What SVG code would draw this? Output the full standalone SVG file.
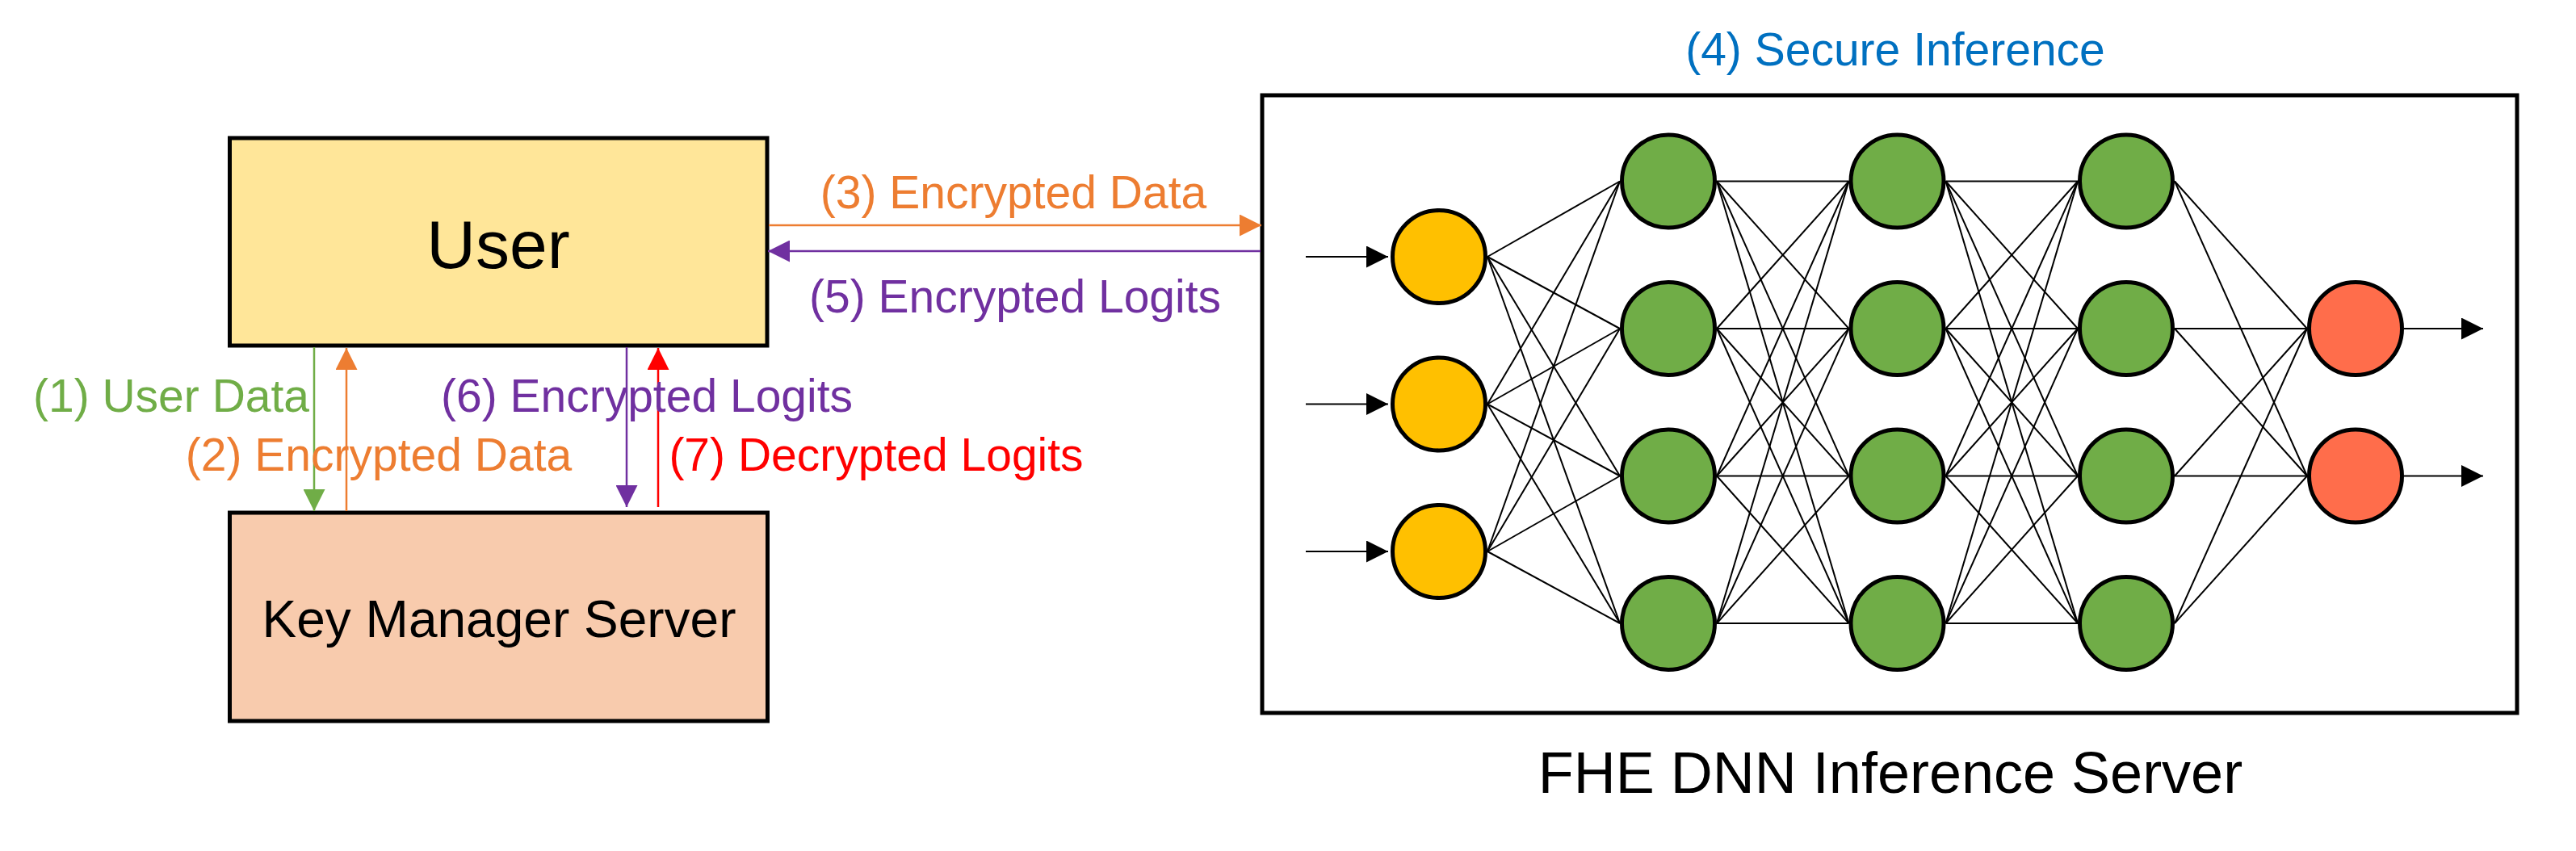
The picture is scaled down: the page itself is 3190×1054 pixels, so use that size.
<svg xmlns="http://www.w3.org/2000/svg" width="3190" height="1054" viewBox="0 0 3190 1054">
  <style>
    text { font-family: "Liberation Sans", Arial, sans-serif; text-anchor: middle; }
    .box { stroke: #000; stroke-width: 5; }
    .lbl { font-size: 57px; }
    .neuron { stroke: #000; stroke-width: 5; }
    .yellow { fill: #FFC000; }
    .green { fill: #70AD47; }
    .red { fill: #FF6D4B; }
    .nn { stroke: #000; stroke-width: 2; fill: none; }
    .arr { stroke-width: 2.5; fill: none; }
  </style>
  <defs>
    <marker id="ah-black" markerUnits="userSpaceOnUse" markerWidth="27" markerHeight="27" refX="27" refY="13.5" orient="auto"><path d="M0,0 L27,13.5 L0,27 z" fill="#000"/></marker>
    <marker id="ah-green" markerUnits="userSpaceOnUse" markerWidth="27" markerHeight="27" refX="27" refY="13.5" orient="auto"><path d="M0,0 L27,13.5 L0,27 z" fill="#70AD47"/></marker>
    <marker id="ah-orange" markerUnits="userSpaceOnUse" markerWidth="27" markerHeight="27" refX="27" refY="13.5" orient="auto"><path d="M0,0 L27,13.5 L0,27 z" fill="#ED7D31"/></marker>
    <marker id="ah-purple" markerUnits="userSpaceOnUse" markerWidth="27" markerHeight="27" refX="27" refY="13.5" orient="auto"><path d="M0,0 L27,13.5 L0,27 z" fill="#7030A0"/></marker>
    <marker id="ah-red" markerUnits="userSpaceOnUse" markerWidth="27" markerHeight="27" refX="27" refY="13.5" orient="auto"><path d="M0,0 L27,13.5 L0,27 z" fill="#FF0000"/></marker>
  </defs>
  <rect width="3190" height="1054" fill="#fff"/>

  <g id="fhe-server">
    <rect class="box" x="1563" y="118" width="1554" height="765" fill="#fff"/>
    <text x="2347" y="81" class="lbl" fill="#0070C0">(4) Secure Inference</text>
    <text x="2341" y="982" font-size="72" fill="#000">FHE DNN Inference Server</text>
  </g>

  <g id="user">
    <rect class="box" x="284.5" y="171" width="665.5" height="257" fill="#FFE699"/>
    <text x="617" y="332" font-size="84" fill="#000">User</text>
  </g>

  <g id="key-manager-server">
    <rect class="box" x="284.5" y="635" width="666" height="258" fill="#F8CBAD"/>
    <text x="618" y="789" font-size="64" fill="#000">Key Manager Server</text>
  </g>

  <g id="connectors">
    <!-- User <-> Key Manager -->
    <line class="arr" x1="389" y1="430" x2="389" y2="633" stroke="#70AD47" marker-end="url(#ah-green)"/>
    <line class="arr" x1="429" y1="633" x2="429" y2="431" stroke="#ED7D31" marker-end="url(#ah-orange)"/>
    <line class="arr" x1="776" y1="430" x2="776" y2="628" stroke="#7030A0" marker-end="url(#ah-purple)"/>
    <line class="arr" x1="815" y1="628" x2="815" y2="431" stroke="#FF0000" marker-end="url(#ah-red)"/>
    <!-- User <-> FHE server -->
    <line class="arr" x1="952" y1="279" x2="1562" y2="279" stroke="#ED7D31" marker-end="url(#ah-orange)"/>
    <line class="arr" x1="1561" y1="311" x2="951" y2="311" stroke="#7030A0" marker-end="url(#ah-purple)"/>
    <text x="212" y="510" class="lbl" fill="#70AD47">(1) User Data</text>
    <text x="469" y="583" class="lbl" fill="#ED7D31">(2) Encrypted Data</text>
    <text x="801" y="510" class="lbl" fill="#7030A0">(6) Encrypted Logits</text>
    <text x="1085" y="583" class="lbl" fill="#FF0000">(7) Decrypted Logits</text>
    <text x="1255" y="258" class="lbl" fill="#ED7D31">(3) Encrypted Data</text>
    <text x="1257" y="387" class="lbl" fill="#7030A0">(5) Encrypted Logits</text>

    <!-- input / output arrows -->
    <line class="nn" x1="1617" y1="318" x2="1719" y2="318" marker-end="url(#ah-black)"/>
    <line class="nn" x1="1617" y1="500.5" x2="1719" y2="500.5" marker-end="url(#ah-black)"/>
    <line class="nn" x1="1617" y1="683" x2="1719" y2="683" marker-end="url(#ah-black)"/>
    <line class="nn" x1="2977" y1="407" x2="3075" y2="407" marker-end="url(#ah-black)"/>
    <line class="nn" x1="2977" y1="589.5" x2="3075" y2="589.5" marker-end="url(#ah-black)"/>

    <!-- input layer -> hidden 1 -->
    <line class="nn" x1="1842" y1="318" x2="2006" y2="224.5"/>
    <line class="nn" x1="1842" y1="318" x2="2006" y2="407"/>
    <line class="nn" x1="1842" y1="318" x2="2006" y2="589.5"/>
    <line class="nn" x1="1842" y1="318" x2="2006" y2="772"/>
    <line class="nn" x1="1842" y1="500.5" x2="2006" y2="224.5"/>
    <line class="nn" x1="1842" y1="500.5" x2="2006" y2="407"/>
    <line class="nn" x1="1842" y1="500.5" x2="2006" y2="589.5"/>
    <line class="nn" x1="1842" y1="500.5" x2="2006" y2="772"/>
    <line class="nn" x1="1842" y1="683" x2="2006" y2="224.5"/>
    <line class="nn" x1="1842" y1="683" x2="2006" y2="407"/>
    <line class="nn" x1="1842" y1="683" x2="2006" y2="589.5"/>
    <line class="nn" x1="1842" y1="683" x2="2006" y2="772"/>

    <!-- hidden 1 -> hidden 2 -->
    <line class="nn" x1="2126" y1="224.5" x2="2289.5" y2="224.5"/>
    <line class="nn" x1="2126" y1="224.5" x2="2289.5" y2="407"/>
    <line class="nn" x1="2126" y1="224.5" x2="2289.5" y2="589.5"/>
    <line class="nn" x1="2126" y1="224.5" x2="2289.5" y2="772"/>
    <line class="nn" x1="2126" y1="407" x2="2289.5" y2="224.5"/>
    <line class="nn" x1="2126" y1="407" x2="2289.5" y2="407"/>
    <line class="nn" x1="2126" y1="407" x2="2289.5" y2="589.5"/>
    <line class="nn" x1="2126" y1="407" x2="2289.5" y2="772"/>
    <line class="nn" x1="2126" y1="589.5" x2="2289.5" y2="224.5"/>
    <line class="nn" x1="2126" y1="589.5" x2="2289.5" y2="407"/>
    <line class="nn" x1="2126" y1="589.5" x2="2289.5" y2="589.5"/>
    <line class="nn" x1="2126" y1="589.5" x2="2289.5" y2="772"/>
    <line class="nn" x1="2126" y1="772" x2="2289.5" y2="224.5"/>
    <line class="nn" x1="2126" y1="772" x2="2289.5" y2="407"/>
    <line class="nn" x1="2126" y1="772" x2="2289.5" y2="589.5"/>
    <line class="nn" x1="2126" y1="772" x2="2289.5" y2="772"/>

    <!-- hidden 2 -> hidden 3 -->
    <line class="nn" x1="2409.5" y1="224.5" x2="2573" y2="224.5"/>
    <line class="nn" x1="2409.5" y1="224.5" x2="2573" y2="407"/>
    <line class="nn" x1="2409.5" y1="224.5" x2="2573" y2="589.5"/>
    <line class="nn" x1="2409.5" y1="224.5" x2="2573" y2="772"/>
    <line class="nn" x1="2409.5" y1="407" x2="2573" y2="224.5"/>
    <line class="nn" x1="2409.5" y1="407" x2="2573" y2="407"/>
    <line class="nn" x1="2409.5" y1="407" x2="2573" y2="589.5"/>
    <line class="nn" x1="2409.5" y1="407" x2="2573" y2="772"/>
    <line class="nn" x1="2409.5" y1="589.5" x2="2573" y2="224.5"/>
    <line class="nn" x1="2409.5" y1="589.5" x2="2573" y2="407"/>
    <line class="nn" x1="2409.5" y1="589.5" x2="2573" y2="589.5"/>
    <line class="nn" x1="2409.5" y1="589.5" x2="2573" y2="772"/>
    <line class="nn" x1="2409.5" y1="772" x2="2573" y2="224.5"/>
    <line class="nn" x1="2409.5" y1="772" x2="2573" y2="407"/>
    <line class="nn" x1="2409.5" y1="772" x2="2573" y2="589.5"/>
    <line class="nn" x1="2409.5" y1="772" x2="2573" y2="772"/>

    <!-- hidden 3 -> output -->
    <line class="nn" x1="2693" y1="224.5" x2="2857" y2="407"/>
    <line class="nn" x1="2693" y1="224.5" x2="2857" y2="589.5"/>
    <line class="nn" x1="2693" y1="407" x2="2857" y2="407"/>
    <line class="nn" x1="2693" y1="407" x2="2857" y2="589.5"/>
    <line class="nn" x1="2693" y1="589.5" x2="2857" y2="407"/>
    <line class="nn" x1="2693" y1="589.5" x2="2857" y2="589.5"/>
    <line class="nn" x1="2693" y1="772" x2="2857" y2="407"/>
    <line class="nn" x1="2693" y1="772" x2="2857" y2="589.5"/>
  </g>

  <g id="in-1"><circle class="neuron yellow" cx="1782" cy="318" r="57.5"/></g>
  <g id="in-2"><circle class="neuron yellow" cx="1782" cy="500.5" r="57.5"/></g>
  <g id="in-3"><circle class="neuron yellow" cx="1782" cy="683" r="57.5"/></g>

  <g id="h1-1"><circle class="neuron green" cx="2066" cy="224.5" r="57.5"/></g>
  <g id="h1-2"><circle class="neuron green" cx="2066" cy="407" r="57.5"/></g>
  <g id="h1-3"><circle class="neuron green" cx="2066" cy="589.5" r="57.5"/></g>
  <g id="h1-4"><circle class="neuron green" cx="2066" cy="772" r="57.5"/></g>

  <g id="h2-1"><circle class="neuron green" cx="2349.5" cy="224.5" r="57.5"/></g>
  <g id="h2-2"><circle class="neuron green" cx="2349.5" cy="407" r="57.5"/></g>
  <g id="h2-3"><circle class="neuron green" cx="2349.5" cy="589.5" r="57.5"/></g>
  <g id="h2-4"><circle class="neuron green" cx="2349.5" cy="772" r="57.5"/></g>

  <g id="h3-1"><circle class="neuron green" cx="2633" cy="224.5" r="57.5"/></g>
  <g id="h3-2"><circle class="neuron green" cx="2633" cy="407" r="57.5"/></g>
  <g id="h3-3"><circle class="neuron green" cx="2633" cy="589.5" r="57.5"/></g>
  <g id="h3-4"><circle class="neuron green" cx="2633" cy="772" r="57.5"/></g>

  <g id="out-1"><circle class="neuron red" cx="2917" cy="407" r="57.5"/></g>
  <g id="out-2"><circle class="neuron red" cx="2917" cy="589.5" r="57.5"/></g>
</svg>
